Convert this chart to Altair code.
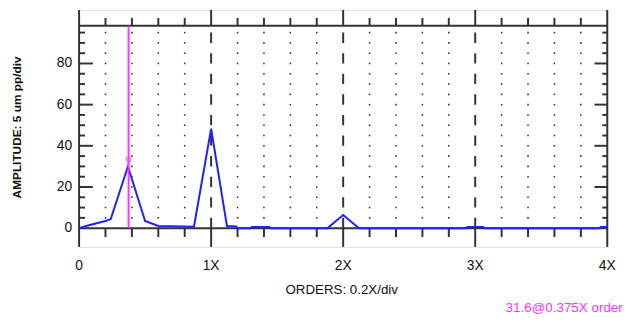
import altair as alt
import pandas as pd

# ---- data ----
orders = [0, 0.06, 0.2, 0.24, 0.37, 0.5, 0.6, 0.87, 1.0, 1.12, 1.19, 1.2, 1.3, 1.31,
          1.44, 1.45, 1.88, 2.0, 2.12, 2.93, 2.94, 3.06, 3.07, 3.94, 3.95, 4.0]
amplitude = [0, 1.2, 3.5, 4.4, 30.0, 3.5, 1.1, 0.7, 48.3, 1.0, 0.8, 0, 0, 0.6,
             0.6, 0, 0, 6.4, 0, 0, 0.6, 0.6, 0, 0, 0.6, 0.6]

x_labels = [0, 1, 2, 3, 4]
x_label_text = ["0", "1X", "2X", "3X", "4X"]
x_major = [1, 2, 3]
x_minor = [0.2, 0.4, 0.6, 0.8, 1.2, 1.4, 1.6, 1.8, 2.2, 2.4, 2.6, 2.8, 3.2, 3.4, 3.6, 3.8]
y_labels = [0, 20, 40, 60, 80]
y_major = [20, 40, 60, 80]
y_minor = [5, 10, 15, 25, 30, 35, 45, 50, 55, 65, 70, 75, 85, 90, 95]
grid_levels = [5, 10, 15, 20, 25, 30, 35, 40, 45, 50, 55, 60, 65, 70, 75, 80, 85, 90, 95]

x_title = "ORDERS: 0.2X/div"
y_title = "AMPLITUDE: 5 um pp/div"
marker_order = 0.375
marker_amp = 31.6
marker_drawn = 33.5
top_level = 98.3

# ---- layout / style ----
W, H = 535, 240
YMIN, YMAX = -9.1, 106.0
AX = "#333333"
TXT = "#111111"
BLUE = "#1f1fff"
MAG = "#ff33ff"
DASH = 5 * H / (YMAX - YMIN)

xs = alt.Scale(domain=[0, 4], nice=False, zero=False)
ys = alt.Scale(domain=[YMIN, YMAX], nice=False, zero=False)

df_line = pd.DataFrame({"order": orders, "amp": amplitude})
df_xminor = pd.DataFrame({"x": x_minor})
df_xmajor = pd.DataFrame({"x": x_major})
df_yminor = pd.DataFrame({"y": y_minor})
df_ymajor = pd.DataFrame({"y": y_major})
df_dots = pd.DataFrame([{"x": gx, "y": gy} for gx in x_minor for gy in grid_levels])
df_frame_v = pd.DataFrame({"x": [0, 4]})
df_frame_h = pd.DataFrame({"y": [0, top_level]})
df_marker = pd.DataFrame({"x": [marker_order], "y": [marker_drawn]})
df_note = pd.DataFrame({"t": [f"{marker_amp}@{marker_order}X order"]})
df_xlab = pd.DataFrame({"x": x_labels, "t": x_label_text})
df_ylab = pd.DataFrame({"y": y_labels, "t": [str(v) for v in y_labels]})
df_xt = pd.DataFrame({"t": [x_title]})
df_yt = pd.DataFrame({"t": [y_title]})


def X(f):
    return alt.X(f, scale=xs, axis=None)


def Y(f):
    return alt.Y(f, scale=ys, axis=None)


def XD(v):
    return alt.X(datum=v, scale=xs, axis=None)


def YD(v):
    return alt.Y(datum=v, scale=ys, axis=None)


dots = alt.Chart(df_dots).mark_square(size=2.5, color=AX, opacity=1).encode(x=X("x:Q"), y=Y("y:Q"))

dashed = alt.Chart(df_xmajor).mark_rule(color=AX, strokeWidth=2, strokeDash=[DASH, DASH]).encode(
    x=X("x:Q"), y=YD(0), y2=alt.datum(top_level))

frame_v = alt.Chart(df_frame_v).mark_rule(color=AX, strokeWidth=2).encode(
    x=X("x:Q"), y=YD(YMIN), y2=alt.datum(YMAX))
frame_h = alt.Chart(df_frame_h).mark_rule(color=AX, strokeWidth=2).encode(
    y=Y("y:Q"), x=XD(0), x2=alt.datum(4))

top_minor = alt.Chart(df_xminor).mark_rule(color=AX, strokeWidth=2, y2Offset=-8).encode(
    x=X("x:Q"), y=YD(top_level), y2=alt.datum(top_level))
top_major = alt.Chart(df_xmajor).mark_rule(color=AX, strokeWidth=2).encode(
    x=X("x:Q"), y=YD(top_level), y2=alt.datum(YMAX))
bot_minor = alt.Chart(df_xminor).mark_rule(color=AX, strokeWidth=2, y2Offset=9).encode(
    x=X("x:Q"), y=YD(0), y2=alt.datum(0))
bot_major = alt.Chart(df_xmajor).mark_rule(color=AX, strokeWidth=2).encode(
    x=X("x:Q"), y=YD(0), y2=alt.datum(YMIN))

left_minor = alt.Chart(df_yminor).mark_rule(color=AX, strokeWidth=2, x2Offset=6).encode(
    y=Y("y:Q"), x=XD(0), x2=alt.datum(0))
left_major = alt.Chart(df_ymajor).mark_rule(color=AX, strokeWidth=2, x2Offset=14).encode(
    y=Y("y:Q"), x=XD(0), x2=alt.datum(0))
right_minor = alt.Chart(df_yminor).mark_rule(color=AX, strokeWidth=2, x2Offset=-5).encode(
    y=Y("y:Q"), x=XD(4), x2=alt.datum(4))
right_major = alt.Chart(df_ymajor).mark_rule(color=AX, strokeWidth=2, x2Offset=-13).encode(
    y=Y("y:Q"), x=XD(4), x2=alt.datum(4))

line = alt.Chart(df_line).mark_line(color=BLUE, strokeWidth=2).encode(
    x=X("order:Q"), y=Y("amp:Q"))

mag_rule = alt.Chart(pd.DataFrame({"x": [marker_order]})).mark_rule(color=MAG, strokeWidth=2).encode(
    x=X("x:Q"), y=YD(0), y2=alt.datum(top_level))
mag_pt = alt.Chart(df_marker).mark_point(shape="circle", filled=False, size=24, color=MAG,
                                         strokeWidth=1.3).encode(x=X("x:Q"), y=Y("y:Q"))

xlab = alt.Chart(df_xlab).mark_text(align="center", baseline="middle", dy=19, fontSize=14,
                                    color=TXT).encode(x=X("x:Q"), y=YD(YMIN), text="t:N")
ylab = alt.Chart(df_ylab).mark_text(align="right", baseline="middle", dx=-7, fontSize=14,
                                    color=TXT).encode(x=XD(0), y=Y("y:Q"), text="t:N")
xt = alt.Chart(df_xt).mark_text(align="center", baseline="middle", fontSize=13.5, color=TXT,
                                x=266, y=284).encode(text="t:N")
yt = alt.Chart(df_yt).mark_text(align="center", baseline="middle", fontSize=12, fontWeight="bold",
                                angle=270, color=TXT, x=-63, y=119).encode(text="t:N")
note = alt.Chart(df_note).mark_text(align="left", baseline="middle", color=MAG, fontSize=13.6,
                                    x=432, y=301.5).encode(text="t:N")

chart = alt.layer(
    dots, dashed, frame_v, frame_h, top_minor, top_major, bot_minor, bot_major,
    left_minor, left_major, right_minor, right_major, line, mag_rule, mag_pt,
    xlab, ylab, xt, yt, note,
).properties(
    width=W, height=H,
    padding={"left": 72, "top": 0, "right": 20, "bottom": 66},
    autosize=alt.AutoSizeParams(type="none"),
).configure_view(stroke=None, fill="white").configure(font="Liberation Sans", background="white")

chart.save("out.html", embed_options={"renderer": "svg", "actions": False})
